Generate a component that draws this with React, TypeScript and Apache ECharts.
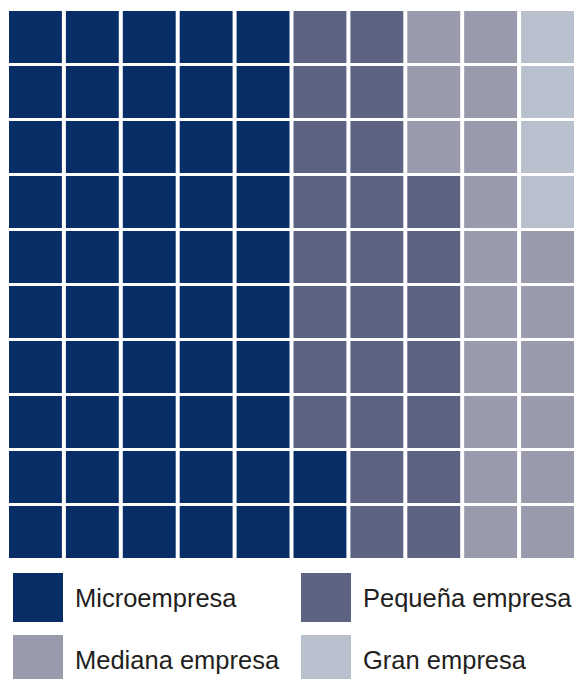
import React, { useEffect, useRef } from "react";
import * as echarts from "echarts";

const categories = ["Microempresa", "Pequeña empresa", "Mediana empresa", "Gran empresa"];
const counts = [52, 25, 19, 4];
const colors = ["#082e67", "#5d6382", "#999aac", "#b9c0cd"];
const gridCols = 10;
const gridRows = 10;

// Fill cells column by column, bottom to top, left to right
function buildCells(): number[][][] {
  const out: number[][][] = categories.map(() => []);
  let idx = 0;
  counts.forEach((c, ci) => {
    for (let k = 0; k < c; k++) {
      const col = Math.floor(idx / gridRows);
      const row = idx % gridRows;
      out[ci].push([col, row]);
      idx++;
    }
  });
  return out;
}

export default function App() {
  const ref = useRef<HTMLDivElement>(null);
  useEffect(() => {
    if (!ref.current) return;
    const chart = echarts.init(ref.current, null, { renderer: "svg" });
    const cells = buildCells();
    const font = "'Liberation Sans', Arial, Helvetica, sans-serif";
    const legendPos = [
      { left: 13, top: 573 },
      { left: 301, top: 573 },
      { left: 13, top: 635 },
      { left: 301, top: 635 },
    ];
    chart.setOption({
      animation: false,
      backgroundColor: "#ffffff",
      grid: { left: 7, top: 9.5, width: 570, height: 550 },
      xAxis: { type: "value", min: -0.5, max: gridCols - 0.5, show: false },
      yAxis: { type: "value", min: -0.5, max: gridRows - 0.5, show: false },
      legend: categories.map((c, i) => ({
        data: [{ name: c, icon: "rect" }],
        left: legendPos[i].left,
        top: legendPos[i].top,
        padding: 0,
        itemWidth: 50,
        itemHeight: 49,
        selectedMode: false,
        textStyle: {
          fontFamily: font,
          fontSize: 25.5,
          color: "#231f20",
          padding: [0, 0, 3, 7],
        },
      })),
      series: categories.map((c, i) => ({
        type: "custom",
        name: c,
        itemStyle: { color: colors[i] },
        data: cells[i],
        renderItem: (params: any, api: any) => {
          const p = api.coord([api.value(0), api.value(1)]);
          const s = api.size([1, 1]);
          const w = s[0] - 4;
          const h = s[1] - 3;
          return {
            type: "rect",
            shape: { x: p[0] - w / 2, y: p[1] - h / 2, width: w, height: h },
            style: { fill: colors[i] },
          };
        },
      })),
    });
    return () => chart.dispose();
  }, []);
  return (
    <div
      ref={ref}
      style={{ position: "absolute", left: 0, top: 0, width: 576, height: 679 }}
    />
  );
}
